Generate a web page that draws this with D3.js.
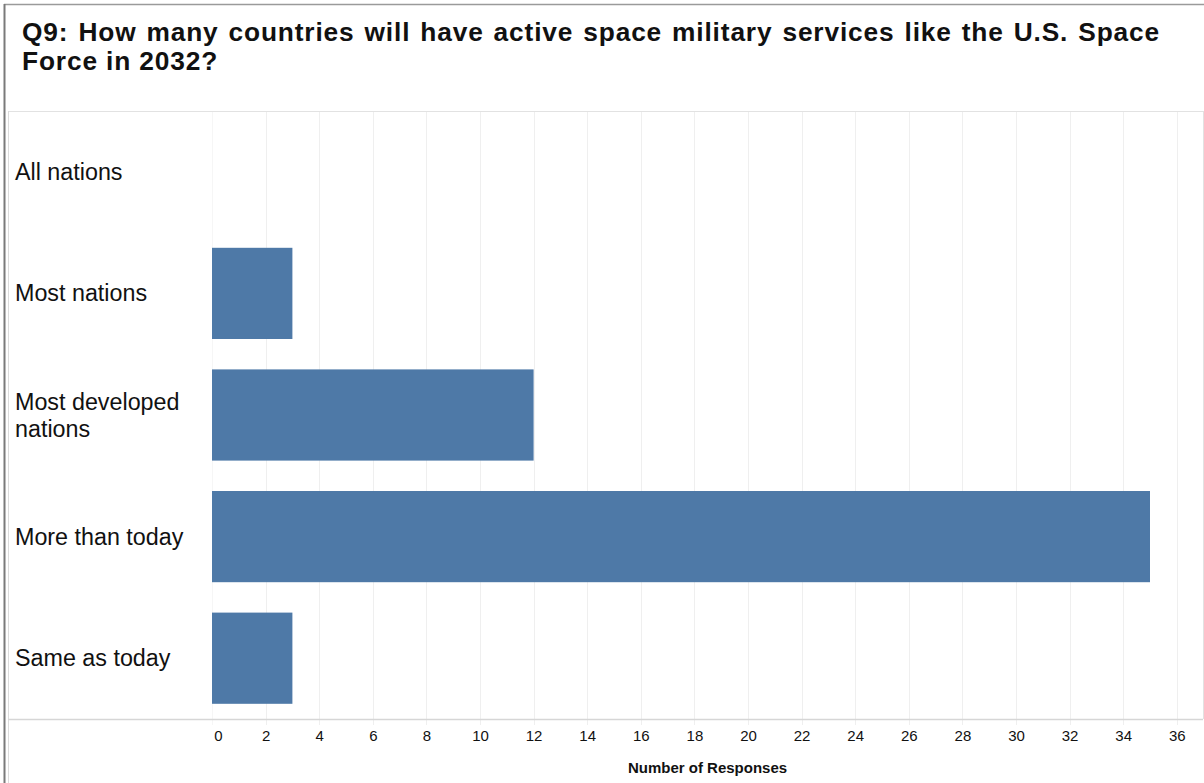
<!DOCTYPE html>
<html>
<head>
<meta charset="utf-8">
<script src="https://cdn.jsdelivr.net/npm/d3@7"></script>
<style>
  html, body { margin: 0; padding: 0; background: #fff; }
  svg { display: block; font-family: "Liberation Sans", Arial, sans-serif; }
</style>
</head>
<body>
<svg id="chart" width="1204" height="783"></svg>
<script>
const titleLines = [
  "Q9: How many countries will have active space military services like the U.S. Space",
  "Force in 2032?"
];
const categories = ["All nations", "Most nations", "Most developed nations", "More than today", "Same as today"];
const responses = [0, 3, 12, 35, 3];
const xTicks = [0, 2, 4, 6, 8, 10, 12, 14, 16, 18, 20, 22, 24, 26, 28, 30, 32, 34, 36];
const xAxisTitle = "Number of Responses";

const W = 1204, H = 783;
const panel = { left: 8, right: 1203, top: 111, bottom: 719 };
const plotLeft = 212;

const svg = d3.select("#chart");

// outer frame
svg.append("line").attr("x1", 4).attr("x2", W).attr("y1", 4.5).attr("y2", 4.5)
  .attr("stroke", "#9a9a9a").attr("stroke-width", 1.5);
svg.append("line").attr("x1", 4.5).attr("x2", 4.5).attr("y1", 4).attr("y2", H)
  .attr("stroke", "#7a7a7a").attr("stroke-width", 2);

// title
const title = svg.append("text").attr("font-weight", "bold").attr("font-size", 26.3)
  .attr("letter-spacing", 0.85).attr("fill", "#111");
const t1 = title.append("tspan").attr("x", 22).attr("y", 40.5).text(titleLines[0]);
title.append("tspan").attr("x", 22).attr("y", 70).text(titleLines[1]);
{
  const target = 1160 - 22;
  const w = t1.node().getComputedTextLength();
  const nSpaces = (titleLines[0].match(/ /g) || []).length;
  if (w < target) t1.attr("word-spacing", (target - w) / nSpaces);
  else t1.attr("textLength", target).attr("lengthAdjust", "spacingAndGlyphs");
}

// panel lines
svg.append("line").attr("x1", panel.left).attr("x2", panel.right).attr("y1", panel.top + 0.5).attr("y2", panel.top + 0.5)
  .attr("stroke", "#e2e2e2");
svg.append("line").attr("x1", panel.left + 0.5).attr("x2", panel.left + 0.5).attr("y1", panel.top).attr("y2", H)
  .attr("stroke", "#dcdcdc");
svg.append("line").attr("x1", panel.right + 0.5).attr("x2", panel.right + 0.5).attr("y1", panel.top).attr("y2", panel.bottom)
  .attr("stroke", "#e2e2e2");

// scales
const x = d3.scaleLinear().domain([0, 35]).range([plotLeft, 1150]);
const y = d3.scaleBand().domain(categories).range([panel.top, panel.bottom])
  .paddingInner(0.25).paddingOuter(0.125);

// gridlines
svg.append("g").selectAll("line").data(xTicks).join("line")
  .attr("x1", d => Math.round(x(d)) + 0.5).attr("x2", d => Math.round(x(d)) + 0.5)
  .attr("y1", panel.top + 1).attr("y2", panel.bottom + 6)
  .attr("stroke", d => d === 0 ? "#f6f6f6" : "#efefef");

// axis line
svg.append("line").attr("x1", panel.left).attr("x2", panel.right).attr("y1", panel.bottom + 0.5).attr("y2", panel.bottom + 0.5)
  .attr("stroke", "#d6d6d6").attr("stroke-width", 1.5);

// x axis via d3
const xAxis = d3.axisBottom(x).tickValues(xTicks).tickSize(0).tickPadding(0).tickFormat(d3.format("d"));
const gx = svg.append("g").attr("transform", `translate(0, ${panel.bottom})`).call(xAxis);
gx.select(".domain").remove();
gx.selectAll("text")
  .attr("font-family", "Liberation Sans, Arial, sans-serif")
  .attr("font-size", 15).attr("fill", "#111")
  .attr("dy", 0).attr("y", 22)
  .attr("dx", d => d === 0 ? 6 : 0);

// axis title
svg.append("text").attr("x", (plotLeft + panel.right) / 2).attr("y", 773)
  .attr("text-anchor", "middle").attr("font-weight", "bold").attr("font-size", 15)
  .attr("fill", "#111").text(xAxisTitle);

// bars
svg.append("g").selectAll("rect").data(categories).join("rect")
  .attr("x", x(0)).attr("y", d => y(d))
  .attr("width", (d, i) => x(responses[i]) - x(0))
  .attr("height", y.bandwidth())
  .attr("fill", "#4e79a7")
  .attr("display", (d, i) => responses[i] > 0 ? null : "none");

// category labels with wrapping
const labelG = svg.append("g");
const lineH = 27;
categories.forEach(c => {
  const words = c.split(" ");
  const lines = [];
  const tmp = labelG.append("text").attr("font-size", 23.3);
  let cur = "";
  words.forEach(wd => {
    const test = cur ? cur + " " + wd : wd;
    tmp.text(test);
    if (tmp.node().getComputedTextLength() > 185 && cur) { lines.push(cur); cur = wd; }
    else cur = test;
  });
  lines.push(cur);
  tmp.remove();
  const cy = y(c) + y.bandwidth() / 2;
  const t = labelG.append("text").attr("font-size", 23.3).attr("fill", "#111");
  lines.forEach((ln, i) => {
    t.append("tspan").attr("x", 15)
      .attr("y", cy + 8 + (i - (lines.length - 1) / 2) * lineH)
      .text(ln);
  });
});
</script>
</body>
</html>
